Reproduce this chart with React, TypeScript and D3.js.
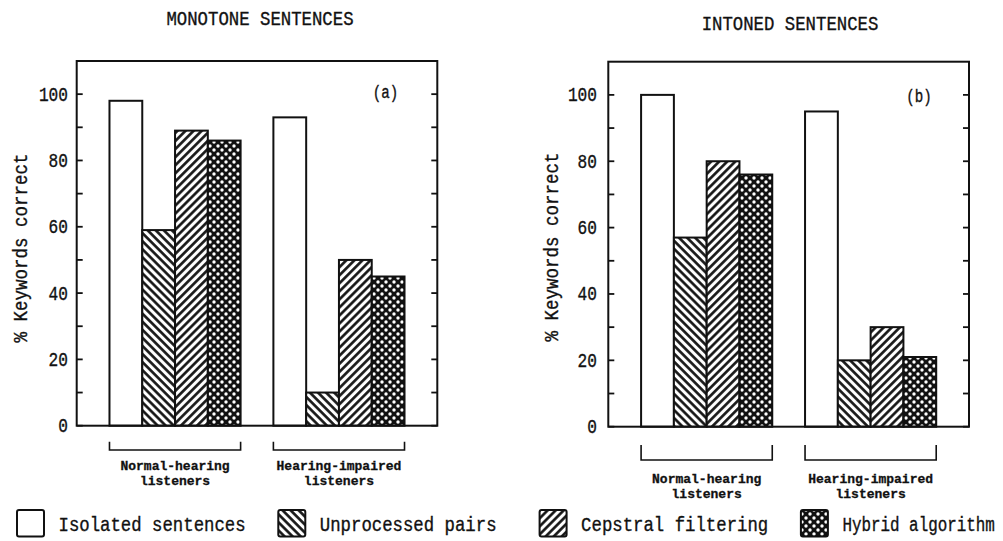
import React from "react";
import * as d3 from "d3";

// Listener groups (two-line labels) and processing conditions
const groupLines = [
  ["Normal-hearing", "listeners"],
  ["Hearing-impaired", "listeners"],
];
const series = [
  "Isolated sentences",
  "Unprocessed pairs",
  "Cepstral filtering",
  "Hybrid algorithm",
];

// % keywords correct, per group, in series order
const monotoneNormal = [98, 59, 89, 86];
const monotoneImpaired = [93, 10, 50, 45];
const intonedNormal = [100, 57, 80, 76];
const intonedImpaired = [95, 20, 30, 21];

const majorTicks = [0, 20, 40, 60, 80, 100];
const minorTicks = [10, 30, 50, 70, 90];
const yMax = 110;

const FONT = "'Liberation Mono', 'DejaVu Sans Mono', monospace";
const INK = "#111";
const ADVANCE = 0.6; // monospace advance width, in em

const panels = [
  {
    title: "MONOTONE SENTENCES",
    tag: "(a)",
    values: [monotoneNormal, monotoneImpaired],
    x0: 76.7, x1: 437.3, yTop: 61, yZero: 425.7,
    titleX: 260, titleY: 25,
    tagX: 385.5, tagY: 98,
    tickLabelX: 68,
    yLabelX: 22, yLabelY: 248,
    bracketTop: 441.7, bracketBottom: 450,
    groupLabelY: 470,
  },
  {
    title: "INTONED SENTENCES",
    tag: "(b)",
    values: [intonedNormal, intonedImpaired],
    x0: 608.3, x1: 969, yTop: 61.7, yZero: 426.7,
    titleX: 790, titleY: 30,
    tagX: 919, tagY: 102,
    tickLabelX: 597,
    yLabelX: 553, yLabelY: 247,
    bracketTop: 445, bracketBottom: 460,
    groupLabelY: 483,
  },
];

const fills = ["#fff", "url(#hatchBack)", "url(#hatchFwd)", "url(#dots)"];

type TProps = {
  x: number; y: number; lines: string[]; cw: number; size: number;
  anchor?: "start" | "middle" | "end"; bold?: boolean; rotate?: number;
  maxWidth?: number; lineGap?: number;
};

// Condensed typewriter-like text: each glyph is squeezed horizontally to a fixed advance
function Mono({
  x, y, lines, cw, size, anchor = "start", bold = false, rotate = 0,
  maxWidth = Infinity, lineGap = size,
}: TProps) {
  const longest = d3.max(lines, (l) => l.length) ?? 1;
  const natural = longest * ADVANCE * size;
  const target = Math.min(longest * cw, maxWidth);
  const sx = target / natural;
  return (
    <g transform={`translate(${x},${y}) rotate(${rotate}) scale(${sx},1)`}>
      <text
        x={0}
        y={0}
        fontFamily={FONT}
        fontSize={size}
        fontWeight={bold ? "bold" : "normal"}
        textAnchor={anchor}
        fill={INK}
        stroke={INK}
        strokeWidth={bold ? 0.3 : 0.35}
      >
        {lines.map((l, i) => (
          <tspan key={i} x={0} dy={i === 0 ? 0 : lineGap}>
            {l}
          </tspan>
        ))}
      </text>
    </g>
  );
}

function Panel({ p }: { p: (typeof panels)[number] }) {
  const y = d3.scaleLinear().domain([0, yMax]).range([p.yZero, p.yTop]);
  const gx = d3
    .scaleBand<number>()
    .domain(d3.range(groupLines.length))
    .range([p.x0, p.x1])
    .paddingInner(0.2)
    .paddingOuter(0.2);
  const sx = d3
    .scaleBand<number>()
    .domain(d3.range(series.length))
    .range([0, gx.bandwidth()])
    .padding(0);
  const tickLen = 6;
  const allTicks = [...majorTicks, ...minorTicks];

  return (
    <g>
      <Mono x={p.titleX} y={p.titleY} lines={[p.title]} cw={10.4} size={20} anchor="middle" />

      {/* bars */}
      {p.values.map((vals, gi) =>
        vals.map((v, si) => (
          <rect
            key={`${gi}-${si}`}
            x={(gx(gi) ?? 0) + (sx(si) ?? 0)}
            y={y(v)}
            width={sx.bandwidth()}
            height={y(0) - y(v)}
            fill={fills[si]}
            stroke={INK}
            strokeWidth={2}
          />
        ))
      )}

      {/* frame */}
      <rect
        x={p.x0}
        y={p.yTop}
        width={p.x1 - p.x0}
        height={p.yZero - p.yTop}
        fill="none"
        stroke={INK}
        strokeWidth={2}
      />

      {/* inward ticks on both vertical axes */}
      {allTicks.map((t) => (
        <g key={t}>
          <line x1={p.x0} x2={p.x0 + tickLen} y1={y(t)} y2={y(t)} stroke={INK} strokeWidth={1.8} />
          <line x1={p.x1} x2={p.x1 - tickLen} y1={y(t)} y2={y(t)} stroke={INK} strokeWidth={1.8} />
        </g>
      ))}
      {majorTicks.map((t) => (
        <Mono key={t} x={p.tickLabelX} y={y(t) + 6.5} lines={[String(t)]} cw={9.7} size={20} anchor="end" />
      ))}

      <Mono x={p.tagX} y={p.tagY} lines={[p.tag]} cw={8.5} size={18} anchor="middle" />

      {/* y-axis title */}
      <Mono
        x={p.yLabelX + 5}
        y={p.yLabelY}
        rotate={-90}
        lines={["% Keywords correct"]}
        cw={10.5}
        size={20}
        anchor="middle"
      />

      {/* group brackets and labels */}
      {groupLines.map((lines, gi) => {
        const a = gx(gi) ?? 0;
        const b = a + gx.bandwidth();
        const c = (a + b) / 2;
        return (
          <g key={gi}>
            <path
              d={`M${a},${p.bracketTop}V${p.bracketBottom}H${b}V${p.bracketTop}`}
              fill="none"
              stroke={INK}
              strokeWidth={1.6}
            />
            <Mono x={c} y={p.groupLabelY} lines={lines} cw={7.8} size={13} lineGap={15} anchor="middle" bold />
          </g>
        );
      })}
    </g>
  );
}

export default function App() {
  const legendX = d3.scaleLinear().domain([0, 1]).range([17, 278.3]);
  const legendRight = 995;
  return (
    <svg
      width={1003}
      height={541}
      style={{ position: "absolute", left: 0, top: 0, background: "#fff" }}
    >
      <defs>
        <pattern id="hatchBack" patternUnits="userSpaceOnUse" width={5.7} height={5.7} patternTransform="rotate(45)">
          <rect width={5.7} height={5.7} fill="#fff" />
          <line x1={0} x2={5.7} y1={1.4} y2={1.4} stroke={INK} strokeWidth={2.6} />
        </pattern>
        <pattern id="hatchFwd" patternUnits="userSpaceOnUse" width={5.7} height={5.7} patternTransform="rotate(-45)">
          <rect width={5.7} height={5.7} fill="#fff" />
          <line x1={0} x2={5.7} y1={1.4} y2={1.4} stroke={INK} strokeWidth={2.6} />
        </pattern>
        <pattern id="dots" patternUnits="userSpaceOnUse" width={8} height={8}>
          <rect width={8} height={8} fill={INK} />
          <circle cx={2} cy={2} r={1.7} fill="#fff" />
          <circle cx={6} cy={6} r={1.7} fill="#fff" />
        </pattern>
      </defs>

      {panels.map((p, i) => (
        <Panel key={i} p={p} />
      ))}

      {/* legend */}
      {series.map((s, i) => {
        const bx = legendX(i);
        const tx = bx + 41.5;
        return (
          <g key={s}>
            <rect x={bx} y={510} width={27} height={26.5} rx={2} fill={fills[i]} stroke={INK} strokeWidth={2} />
            <Mono x={tx} y={531} lines={[s]} cw={10.4} size={20} maxWidth={legendRight - tx} />
          </g>
        );
      })}
    </svg>
  );
}
